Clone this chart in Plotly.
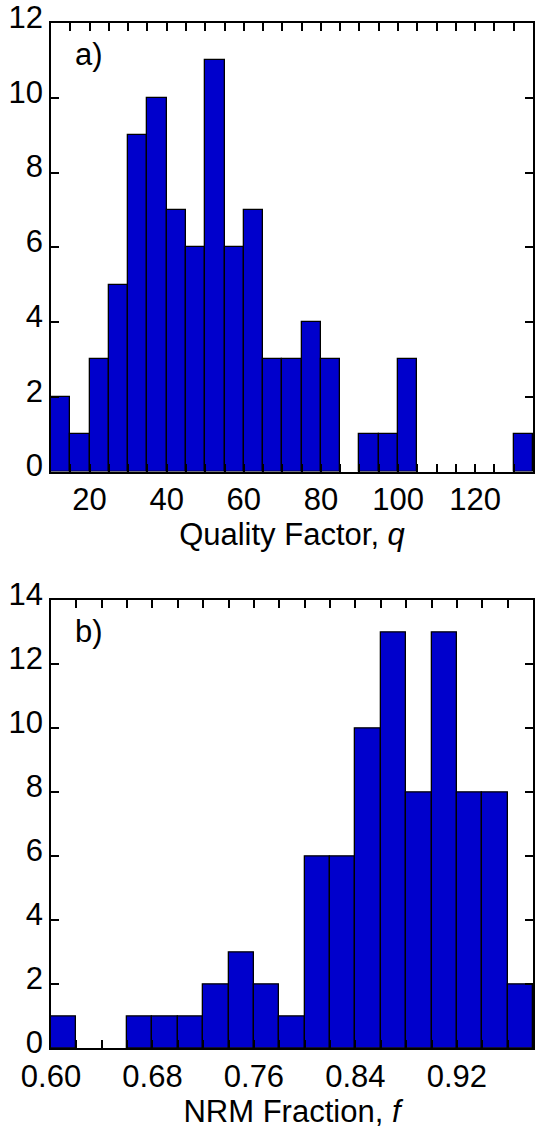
import plotly.graph_objects as go

# Panel a) Quality factor histogram (bin start, width 5)
q_bin_starts = [10, 15, 20, 25, 30, 35, 40, 45, 50, 55, 60, 65, 70, 75, 80, 85, 90, 95, 100, 105, 110, 115, 120, 125, 130]
q_counts =     [2,  1,  3,  5,  9,  10, 7,  6,  11, 6,  7,  3,  3,  4,  3,  0,  1,  1,  3,   0,   0,   0,   0,   0,   1]
q_width = 5
q_tick_labels = [20, 40, 60, 80, 100, 120]

# Panel b) NRM fraction histogram (bin start, width 0.02)
f_bin_starts = [0.60, 0.62, 0.64, 0.66, 0.68, 0.70, 0.72, 0.74, 0.76, 0.78, 0.80, 0.82, 0.84, 0.86, 0.88, 0.90, 0.92, 0.94, 0.96]
f_counts =     [1,    0,    0,    1,    1,    1,    2,    3,    2,    1,    6,    6,    10,   13,   8,    13,   8,    8,    2]
f_width = 0.02
f_tick_labels = ["0.60", "0.68", "0.76", "0.84", "0.92"]

BLUE = "#0000CC"
FONT = "Liberation Sans, Arial, sans-serif"
FS = 31

fig = go.Figure()

qx = [s + q_width / 2 for s, c in zip(q_bin_starts, q_counts) if c > 0]
qy = [c for c in q_counts if c > 0]
fig.add_trace(go.Bar(x=qx, y=qy, width=q_width, marker=dict(color=BLUE, line=dict(color="black", width=1.3)),
                     xaxis="x", yaxis="y", showlegend=False))

fx = [round(s + f_width / 2, 4) for s, c in zip(f_bin_starts, f_counts) if c > 0]
fy = [c for c in f_counts if c > 0]
fig.add_trace(go.Bar(x=fx, y=fy, width=f_width, marker=dict(color=BLUE, line=dict(color="black", width=1.3)),
                     xaxis="x2", yaxis="y2", showlegend=False))

q_tickvals = list(range(10, 136, 5))
q_ticktext = [str(v) if v in q_tick_labels else "" for v in q_tickvals]
f_tickvals = [round(0.60 + 0.02 * i, 2) for i in range(20)]
f_ticktext = [f"{v:.2f}" if f"{v:.2f}" in f_tick_labels else "" for v in f_tickvals]

common_axis = dict(showline=True, linecolor="black", linewidth=1.5, mirror="ticks", ticks="inside",
                   ticklen=8, tickwidth=1.5, tickcolor="black", showgrid=False, zeroline=False,
                   ticklabeloverflow="allow",
                   tickfont=dict(family=FONT, size=FS, color="black"))

top_dom = [0.5624, 1.0]
bot_dom = [0.0, 0.4366]

fig.update_layout(
    width=535, height=1132,
    margin=dict(l=51, r=0, t=15, b=84),
    plot_bgcolor="white", paper_bgcolor="white",
    bargap=0,
    xaxis=dict(domain=[0, 1], range=[10, 135], tickmode="array", tickvals=q_tickvals, ticktext=q_ticktext,
               anchor="y", title=dict(text="Quality Factor, <i>q</i>", font=dict(family=FONT, size=FS, color="black"), standoff=2),
               **common_axis),
    yaxis=dict(domain=top_dom, range=[0, 12], tickmode="array", tickvals=list(range(0, 13, 2)),
               anchor="x", ticklabelshift=-6, **common_axis),
    xaxis2=dict(domain=[0, 1], range=[0.60, 0.98], tickmode="array", tickvals=f_tickvals, ticktext=f_ticktext,
                anchor="y2", title=dict(text="NRM Fraction, <i>f</i>", font=dict(family=FONT, size=FS, color="black"), standoff=2),
                **common_axis),
    yaxis2=dict(domain=bot_dom, range=[0, 14], tickmode="array", tickvals=list(range(0, 15, 2)),
                anchor="x2", ticklabelshift=-6, **common_axis),
    annotations=[
        dict(text="a)", xref="x domain", yref="y domain", x=0.045, y=0.93, xanchor="left", yanchor="middle",
             showarrow=False, font=dict(family=FONT, size=FS, color="black")),
        dict(text="b)", xref="x2 domain", yref="y2 domain", x=0.045, y=0.93, xanchor="left", yanchor="middle",
             showarrow=False, font=dict(family=FONT, size=FS, color="black")),
    ],
)

fig.write_html("out.html")
